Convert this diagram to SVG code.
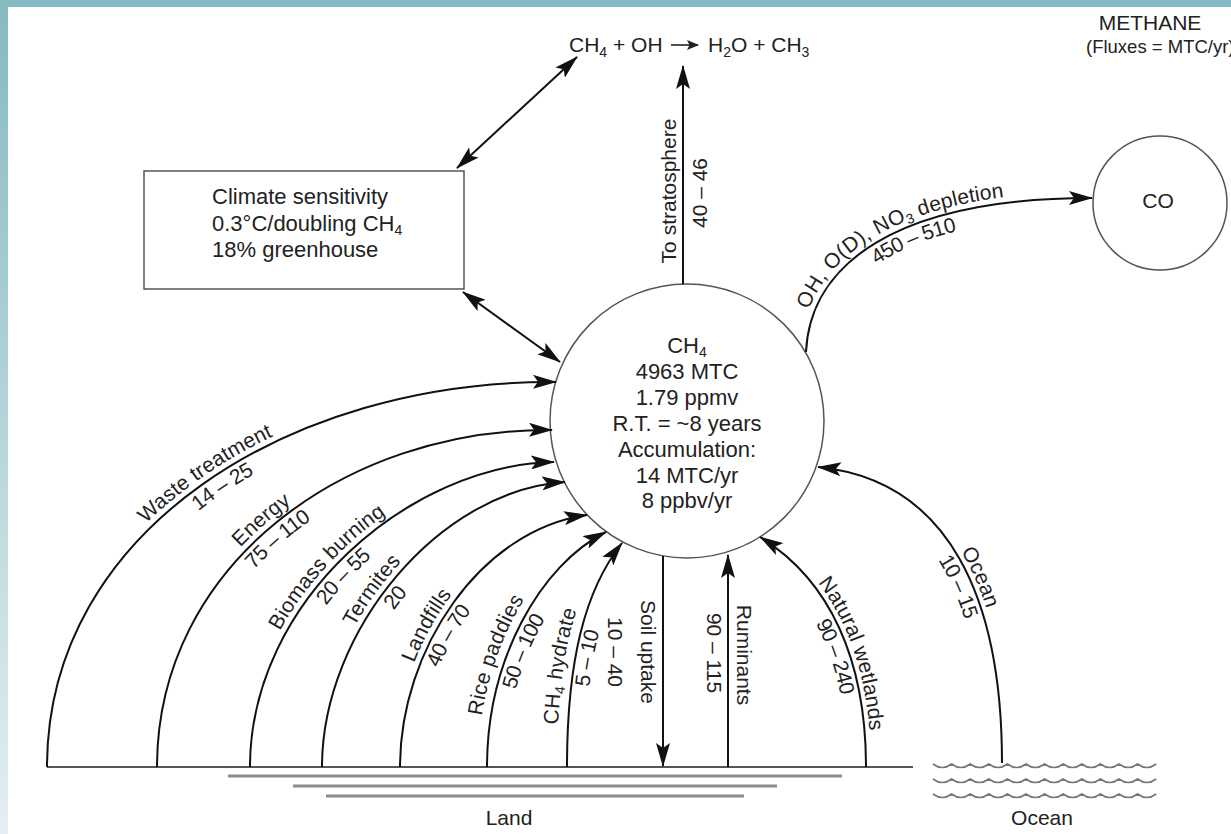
<svg xmlns="http://www.w3.org/2000/svg" width="1231" height="834" viewBox="0 0 1231 834">
<defs>
<linearGradient id="lg" x1="0" y1="0" x2="0" y2="1"><stop offset="0" stop-color="#86bac1"/><stop offset="1" stop-color="#e4eff1"/></linearGradient>
<marker id="ah" viewBox="0 0 24 14" refX="23" refY="7" markerWidth="24" markerHeight="14" markerUnits="userSpaceOnUse" orient="auto-start-reverse"><path d="M0,0 L24,7 L0,14 L5,7 z" fill="#111"/></marker>
<marker id="ahs" viewBox="0 0 12 10" refX="11" refY="5" markerWidth="12" markerHeight="10" markerUnits="userSpaceOnUse" orient="auto"><path d="M0,0 L12,5 L0,10 L2.5,5 z" fill="#222"/></marker>
<path id="r-wet" d="M760,537 C830,580 866,660 866,767"/>
<path id="r-ocean" d="M818,467 C950,480 1002,600 1002,763"/>
<style>
text{font-family:"Liberation Sans",Arial,Helvetica,sans-serif;fill:#222;font-size:21px}
.c{text-anchor:middle}
.sub{font-size:14px}
.big{font-size:22px}
.sm{font-size:18.5px}
.arc{fill:none;stroke:#111;stroke-width:2;marker-end:url(#ah)}
.dbl{fill:none;stroke:#111;stroke-width:2;marker-end:url(#ah);marker-start:url(#ah)}
.node{fill:#fff;stroke:#555;stroke-width:1.5}
.land{stroke:#8c8c8c;stroke-width:3;fill:none}
.wave{fill:none;stroke:#777;stroke-width:1.7}
</style>
</defs>
<rect x="0" y="0" width="1231" height="834" fill="#fff"/>
<rect x="0" y="0" width="1231" height="7" fill="#84bac1"/>
<rect x="0" y="7" width="8" height="827" fill="url(#lg)"/>

<g id="title">
<text class="c" x="1150" y="30">METHANE</text>
<text class="sm" x="1086" y="53">(Fluxes = MTC/yr)</text>
</g>

<g id="reaction">
<text x="569" y="52">CH<tspan class="sub" dy="5">4</tspan><tspan dy="-5"> + OH</tspan></text>
<line x1="671" y1="45" x2="698" y2="45" stroke="#222" stroke-width="1.6" marker-end="url(#ahs)"/>
<text x="708" y="52">H<tspan class="sub" dy="5">2</tspan><tspan dy="-5">O + CH</tspan><tspan class="sub" dy="5">3</tspan></text>
</g>

<g id="climate">
<rect class="node" x="144" y="171" width="320" height="118"/>
<text class="big" x="212" y="204">Climate sensitivity</text>
<text class="big" x="212" y="231">0.3°C/doubling CH<tspan class="sub" dy="4">4</tspan></text>
<text class="big" x="212" y="257">18% greenhouse</text>
</g>

<g id="ch4">
<circle class="node" cx="687" cy="421" r="137"/>
<text class="c big" x="687" y="353">CH<tspan class="sub" dy="4">4</tspan></text>
<text class="c big" x="687" y="379">4963 MTC</text>
<text class="c big" x="687" y="405">1.79 ppmv</text>
<text class="c big" x="687" y="431">R.T. = ~8 years</text>
<text class="c big" x="687" y="457">Accumulation:</text>
<text class="c big" x="687" y="483">14 MTC/yr</text>
<text class="c big" x="687" y="508">8 ppbv/yr</text>
</g>

<g id="co">
<circle class="node" cx="1160" cy="203" r="67"/>
<text class="c" x="1158" y="208">CO</text>
</g>

<g id="ground">
<line x1="47" y1="767" x2="913" y2="767" stroke="#555" stroke-width="2"/>
<line class="land" x1="228" y1="776" x2="842" y2="776"/>
<line class="land" x1="293" y1="786" x2="777" y2="786" stroke="#777"/>
<line class="land" x1="326" y1="796" x2="744" y2="796"/>
<text class="c" x="509" y="825">Land</text>
</g>

<g id="ocean">
<path class="wave" d="M933,764 q9.3,7 18.6,0 q9.3,7 18.6,0 q9.3,7 18.6,0 q9.3,7 18.6,0 q9.3,7 18.6,0 q9.3,7 18.6,0 q9.3,7 18.6,0 q9.3,7 18.6,0 q9.3,7 18.6,0 q9.3,7 18.6,0 q9.3,7 18.6,0 q9.3,7 18.6,0"/>
<path class="wave" d="M933,779 q9.3,7 18.6,0 q9.3,7 18.6,0 q9.3,7 18.6,0 q9.3,7 18.6,0 q9.3,7 18.6,0 q9.3,7 18.6,0 q9.3,7 18.6,0 q9.3,7 18.6,0 q9.3,7 18.6,0 q9.3,7 18.6,0 q9.3,7 18.6,0 q9.3,7 18.6,0"/>
<path class="wave" d="M933,794 q9.3,7 18.6,0 q9.3,7 18.6,0 q9.3,7 18.6,0 q9.3,7 18.6,0 q9.3,7 18.6,0 q9.3,7 18.6,0 q9.3,7 18.6,0 q9.3,7 18.6,0 q9.3,7 18.6,0 q9.3,7 18.6,0 q9.3,7 18.6,0 q9.3,7 18.6,0"/>
<text class="c" x="1042" y="825">Ocean</text>
</g>

<g id="connectors">
<path class="dbl" d="M457,168 L577,57"/>
<path class="dbl" d="M463,292 L560,362"/>
<path class="arc" d="M683,284 L683,66"/>
<path id="a-co" class="arc" d="M806,352 C810,265 895,198 1092,198"/>
<path id="a-waste" class="arc" d="M47,767 C47,530 290,380 556,382"/>
<path id="a-energy" class="arc" d="M157,767 C157,565 345,428 552,430"/>
<path id="a-bio" class="arc" d="M250,767 C250,600 410,465 554,462"/>
<path id="a-term" class="arc" d="M322,767 C322,630 440,490 565,482"/>
<path id="a-land" class="arc" d="M400,767 C400,650 480,530 587,515"/>
<path id="a-rice" class="arc" d="M487,767 C487,660 540,565 606,532"/>
<path id="a-hyd" class="arc" d="M567,767 C567,660 585,590 622,543"/>
<path class="arc" d="M663,556 L663,766"/>
<path class="arc" d="M728,767 L728,555"/>
<path class="arc" d="M866,767 C866,660 830,580 760,537"/>
<path class="arc" d="M1002,763 C1002,600 950,480 818,467"/>
</g>

<g id="labels">
<text class="c" transform="translate(676,191) rotate(-90)">To stratosphere</text>
<text class="c" transform="translate(707,193) rotate(-90)">40 – 46</text>
<text class="c"><textPath href="#a-co" startOffset="43.5%"><tspan dy="-6">OH, O(D), NO</tspan><tspan class="sub" dy="4">3</tspan><tspan dy="-4"> depletion</tspan></textPath></text>
<text class="c"><textPath href="#a-co" startOffset="47.7%"><tspan dy="19">450 – 510</tspan></textPath></text>
<text class="c"><textPath href="#a-waste" startOffset="48.5%"><tspan dy="-6">Waste treatment</tspan></textPath></text>
<text class="c"><textPath href="#a-waste" startOffset="49.5%"><tspan dy="19">14 – 25</tspan></textPath></text>
<text class="c"><textPath href="#a-energy" startOffset="47%"><tspan dy="-6">Energy</tspan></textPath></text>
<text class="c"><textPath href="#a-energy" startOffset="47%"><tspan dy="19">75 – 110</tspan></textPath></text>
<text class="c"><textPath href="#a-bio" startOffset="46%"><tspan dy="-6">Biomass burning</tspan></textPath></text>
<text class="c"><textPath href="#a-bio" startOffset="47%"><tspan dy="19">20 – 55</tspan></textPath></text>
<text class="c"><textPath href="#a-term" startOffset="45%"><tspan dy="-6">Termites</tspan></textPath></text>
<text class="c"><textPath href="#a-term" startOffset="47%"><tspan dy="19">20</tspan></textPath></text>
<text class="c"><textPath href="#a-land" startOffset="42%"><tspan dy="-6">Landfills</tspan></textPath></text>
<text class="c"><textPath href="#a-land" startOffset="42.5%"><tspan dy="19">40 – 70</tspan></textPath></text>
<text class="c"><textPath href="#a-rice" startOffset="40%"><tspan dy="-9">Rice paddies</tspan></textPath></text>
<text class="c"><textPath href="#a-rice" startOffset="45%"><tspan dy="19">50 – 100</tspan></textPath></text>
<text class="c"><textPath href="#a-hyd" startOffset="42%"><tspan dy="-10">CH</tspan><tspan class="sub" dy="4">4</tspan><tspan dy="-4"> hydrate</tspan></textPath></text>
<text class="c"><textPath href="#a-hyd" startOffset="47.6%"><tspan dy="18">5 – 10</tspan></textPath></text>
<text class="c" transform="translate(641,652) rotate(90)">Soil uptake</text>
<text class="c" transform="translate(608,652) rotate(90)">10 – 40</text>
<text class="c" transform="translate(707,653) rotate(90)">90 – 115</text>
<text class="c" transform="translate(737,655) rotate(90)">Ruminants</text>
<text class="c"><textPath href="#r-wet" startOffset="57%"><tspan dy="-5">Natural wetlands</tspan></textPath></text>
<text class="c"><textPath href="#r-wet" startOffset="56%"><tspan dy="19">90 – 240</tspan></textPath></text>
<text class="c"><textPath href="#r-ocean" startOffset="52%"><tspan dy="-5">Ocean</tspan></textPath></text>
<text class="c"><textPath href="#r-ocean" startOffset="52%"><tspan dy="19">10 – 15</tspan></textPath></text>
</g>
</svg>
